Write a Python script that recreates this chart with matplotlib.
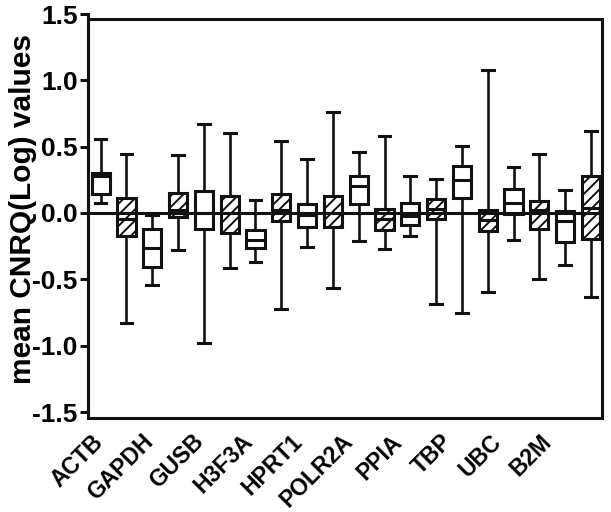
import numpy as np
import matplotlib
matplotlib.use('Agg')
import matplotlib.pyplot as plt
from matplotlib.patches import Rectangle

plt.rcParams['font.family'] = ['Liberation Sans', 'DejaVu Sans']
plt.rcParams['font.weight'] = 'bold'
plt.rcParams['hatch.linewidth'] = 1.4

genes = ['ACTB', 'GAPDH', 'GUSB', 'H3F3A', 'HPRT1', 'POLR2A', 'PPIA', 'TBP', 'UBC', 'B2M']

# white (open) boxes
white_hi  = [0.557, -0.013, 0.673, 0.098, 0.407, 0.462, 0.279, 0.507, 0.344, 0.170]
white_q3  = [0.304, -0.121, 0.163, -0.131, 0.068, 0.281, 0.078, 0.356, 0.178, 0.015]
white_med = [0.276, -0.264, 0.000, -0.201, -0.013, 0.206, -0.020, 0.251, 0.075, -0.063]
white_q1  = [0.145, -0.407, -0.120, -0.264, -0.108, 0.065, -0.090, 0.113, -0.008, -0.222]
white_lo  = [0.075, -0.540, -0.980, -0.372, -0.259, -0.209, -0.173, -0.757, -0.201, -0.392]

# hatched boxes
hatch_hi  = [0.447, 0.437, 0.603, 0.540, 0.763, 0.580, 0.256, 1.075, 0.445, 0.615]
hatch_q3  = [0.113, 0.151, 0.130, 0.145, 0.128, 0.032, 0.102, 0.023, 0.093, 0.281]
hatch_med = [-0.044, 0.025, 0.000, 0.025, 0.000, -0.043, 0.032, -0.050, 0.020, 0.035]
hatch_q1  = [-0.176, -0.030, -0.151, -0.063, -0.108, -0.126, -0.045, -0.139, -0.121, -0.194]
hatch_lo  = [-0.829, -0.277, -0.415, -0.721, -0.568, -0.271, -0.686, -0.598, -0.497, -0.636]

yticks = [-1.5, -1.0, -0.5, 0.0, 0.5, 1.0, 1.5]

stats = []
hatched = []
for i in range(len(genes)):
    stats.append(dict(med=white_med[i], q1=white_q1[i], q3=white_q3[i],
                      whislo=white_lo[i], whishi=white_hi[i], fliers=[]))
    hatched.append(False)
    stats.append(dict(med=hatch_med[i], q1=hatch_q1[i], q3=hatch_q3[i],
                      whislo=hatch_lo[i], whishi=hatch_hi[i], fliers=[]))
    hatched.append(True)
positions = np.arange(1, len(stats) + 1)

fig = plt.figure(figsize=(6.11, 5.12), dpi=100)
ax = fig.add_axes([88 / 611, 100 / 512, 514 / 611, 398 / 512])

lw = 2.2
bp = ax.bxp(stats, positions=positions, widths=0.7, capwidths=0.45,
            patch_artist=True, showfliers=False,
            boxprops=dict(facecolor='white', edgecolor='#111111', linewidth=lw),
            whiskerprops=dict(color='#111111', linewidth=1.9),
            capprops=dict(color='#111111', linewidth=lw),
            medianprops=dict(color='#111111', linewidth=lw))
for box, h in zip(bp['boxes'], hatched):
    if h:
        box.set_hatch('///')

ax.axhline(0, color='#111111', lw=lw, zorder=6)

ax.set_xlim(0.508, 20.43)
ax.set_ylim(-1.5, 1.5)
ax.set_yticks(yticks)
ax.set_yticklabels([f'{v:.1f}' for v in yticks])

for s in ['top', 'right', 'bottom']:
    ax.spines[s].set_visible(False)
ax.spines['left'].set_linewidth(lw)
ax.spines['left'].set_color('#111111')
frame = Rectangle((0, -1.545), 1, 3.007, transform=ax.get_yaxis_transform(),
                  fill=False, lw=lw, edgecolor='#111111', clip_on=False, zorder=7)
ax.add_patch(frame)

label_pos = 0.66 + 1.93 * np.arange(len(genes))
ax.set_xticks(label_pos)
ax.set_xticklabels(genes, rotation=45, ha='right', rotation_mode='anchor',
                   fontsize=16.5, fontweight='bold')
ax.tick_params(axis='x', length=0, pad=13)
ax.tick_params(axis='y', length=6, width=lw, pad=1.5, labelsize=19, color='#111111')
for t in ax.get_yticklabels():
    t.set_fontweight('bold')

ax.set_ylabel('mean CNRQ(Log) values', fontsize=21.5, fontweight='bold')
ax.yaxis.set_label_coords(-0.10, 0.51)

fig.savefig('out.png', dpi=100, facecolor='white')
